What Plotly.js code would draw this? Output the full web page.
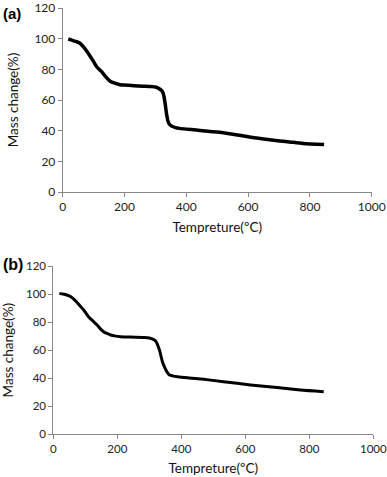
<!DOCTYPE html>
<html><head><meta charset="utf-8">
<script src="https://cdn.plot.ly/plotly-3.0.1.min.js"></script>
<style>html,body{margin:0;padding:0;background:#fff}#chart{width:387px;height:477px}</style>
</head><body><div id="chart"></div>
<script>
// Panel (a)
const tempA = [18, 30, 45, 56, 70, 83, 97, 110, 126, 140, 155, 169, 185, 200, 230, 260, 285, 303, 315, 323, 328, 332, 336, 341, 346, 352, 365, 378, 400, 432, 470, 519, 560, 600, 650, 703, 740, 778, 846];
const massA = [99.8, 99, 98, 97, 94, 90.4, 86, 81.7, 78.5, 75, 72, 71, 70, 69.8, 69.3, 69, 68.8, 68.3, 67, 65.4, 62, 57, 51, 46, 44, 43, 42, 41.5, 41, 40.4, 39.6, 38.7, 37.4, 36, 34.6, 33.3, 32.5, 31.7, 30.9];
// Panel (b)
const tempB = [19, 30, 42, 55, 68, 80, 95, 110, 125, 137, 148, 158, 170, 179, 195, 210, 240, 284, 300, 316, 322, 326, 332, 337, 342, 347, 355, 363, 375, 389, 420, 463, 532, 616, 699, 772, 845];
const massB = [100.5, 100, 99.3, 98, 95.5, 92.5, 88.6, 83.8, 80.5, 77.9, 75, 73, 71.7, 70.8, 70, 69.6, 69.3, 69.1, 68.7, 67.2, 65.8, 63.7, 60, 55.3, 51, 48.2, 44.5, 42.3, 41.5, 41, 40.3, 39.4, 37.5, 35.2, 33.3, 31.6, 30.4];
const xTicks = [0, 200, 400, 600, 800, 1000];
const yTicks = [0, 20, 40, 60, 80, 100, 120];
const xTitle = 'Tempreture(ºC)';
const yTitle = 'Mass change(%)';
const panelLabels = ['(a)', '(b)'];

const FONT = 'Lato, "Open Sans", sans-serif';
const axCol = '#878787';

function xax(domain, anchor, size, standoff) {
  return {domain: domain, anchor: anchor, range: [0, 1000], tickvals: xTicks, ticktext: xTicks.map(String),
    showgrid: false, zeroline: false, showline: true, linecolor: axCol, linewidth: 1,
    ticks: 'outside', ticklen: 4, tickcolor: axCol, tickfont: {family: FONT, size: size, color: '#222'},
    title: {text: xTitle, font: {family: FONT, size: 13.5, color: '#111'}, standoff: standoff}, fixedrange: true};
}
function yax(domain, anchor, size, standoff) {
  return {domain: domain, anchor: anchor, range: [0, 120], tickvals: yTicks, ticktext: yTicks.map(String),
    showgrid: false, zeroline: false, showline: true, linecolor: axCol, linewidth: 1,
    ticks: 'outside', ticklen: 4, tickcolor: axCol, tickfont: {family: FONT, size: size, color: '#222'},
    title: {text: yTitle, font: {family: FONT, size: 13.5, color: '#111'}, standoff: standoff}, fixedrange: true};
}

const data = [
  {x: tempA, y: massA, xaxis: 'x', yaxis: 'y', mode: 'lines', line: {color: '#000', width: 3.5, shape: 'spline', smoothing: 0.6}, hoverinfo: 'skip'},
  {x: tempB, y: massB, xaxis: 'x2', yaxis: 'y2', mode: 'lines', line: {color: '#000', width: 3, shape: 'spline', smoothing: 0.6}, hoverinfo: 'skip'}
];

const layout = {
  width: 387, height: 477, margin: {l: 0, r: 0, t: 0, b: 0},
  paper_bgcolor: '#fff', plot_bgcolor: '#fff', showlegend: false,
  xaxis: xax([62.7/387, 371.7/387], 'y', 12, 9),
  yaxis: yax([(477-192)/477, (477-8)/477], 'x', 12, 12),
  xaxis2: xax([53.3/387, 373.3/387], 'y2', 11.5, 9),
  yaxis2: yax([(477-434.3)/477, (477-266)/477], 'x2', 11.5, 11),
  annotations: [
    {text: '<b>' + panelLabels[0] + '</b>', xref: 'paper', yref: 'paper', x: 1/387, y: 1 - 13/477, xanchor: 'left', yanchor: 'middle', showarrow: false, font: {family: 'Liberation Sans, Arial, sans-serif', size: 15, color: '#000'}},
    {text: '<b>' + panelLabels[1] + '</b>', xref: 'paper', yref: 'paper', x: 1/387, y: 1 - 264/477, xanchor: 'left', yanchor: 'middle', showarrow: false, font: {family: 'Liberation Sans, Arial, sans-serif', size: 16, color: '#000'}}
  ]
};
Plotly.newPlot('chart', data, layout, {displayModeBar: false, staticPlot: true});
</script></body></html>
